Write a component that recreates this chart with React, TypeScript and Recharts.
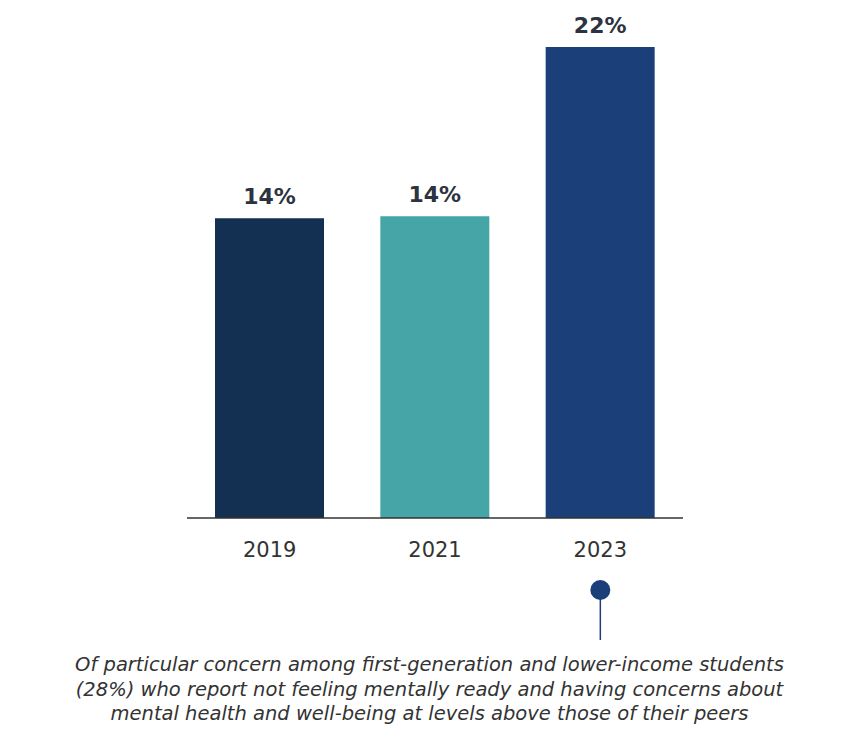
import React from "react";
import { BarChart, Bar, XAxis, YAxis, Cell, LabelList } from "recharts";

const categories = ["2019", "2021", "2023"];
const values = [14.0, 14.1, 22.0];
const labels = ["14%", "14%", "22%"];
const colors = ["#132f52", "#46a5a7", "#1b3f78"];

const data = categories.map((c, i) => ({ year: c, value: values[i], label: labels[i] }));

const Tick = (props: any) => {
  const { x, y, payload } = props;
  return (
    <g>
      <text x={x} y={y + 39} textAnchor="middle" fontSize={21} fill="#333" fontFamily="DejaVu Sans">
        {payload.value}
      </text>
      {payload.value === "2023" && (
        <g>
          <line x1={x} y1={y + 72} x2={x} y2={y + 122} stroke="#1b3f78" strokeWidth={1.5} />
          <circle cx={x} cy={y + 72} r={10} fill="#1b3f78" />
        </g>
      )}
    </g>
  );
};

export default function App() {
  return (
    <div style={{ fontFamily: "DejaVu Sans" }}>
      <BarChart width={843} height={645} data={data} margin={{ top: 39, right: 168, left: 179, bottom: 0 }}>
        <YAxis hide domain={[0, 22]} />
        <XAxis
          dataKey="year"
          height={135}
          tickLine={false}
          tickSize={0}
          tickMargin={0}
          axisLine={{ stroke: "#333", strokeWidth: 1.5 }}
          tick={<Tick />}
          interval={0}
        />
        <Bar dataKey="value" barSize={109} isAnimationActive={false}>
          {data.map((d, i) => (
            <Cell key={i} fill={colors[i]} />
          ))}
          <LabelList dataKey="label" position="top" offset={14} fontSize={22} fontWeight="bold" fill="#2d3340" fontFamily="DejaVu Sans" />
        </Bar>
      </BarChart>
      <div style={{ width: 843, textAlign: "center", fontStyle: "italic", fontSize: 19.5, lineHeight: "24.5px", color: "#333" }}>
        Of particular concern among first-generation and lower-income students
        <br />
        (28%) who report not feeling mentally ready and having concerns about
        <br />
        mental health and well-being at levels above those of their peers
      </div>
    </div>
  );
}
